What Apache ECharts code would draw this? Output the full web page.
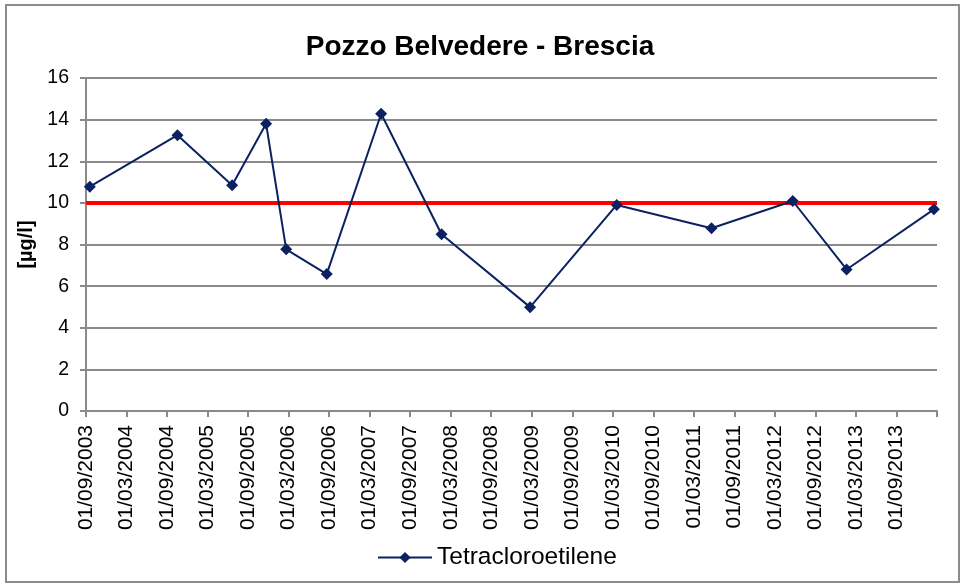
<!DOCTYPE html>
<html>
<head>
<meta charset="utf-8">
<script src="https://cdn.jsdelivr.net/npm/echarts@6/dist/echarts.min.js"></script>
<style>
  html, body { margin: 0; padding: 0; background: #fff; }
  #chart { width: 960px; height: 584px; }
</style>
</head>
<body>
<div id="chart"></div>
<script>
// sampling dates and measured values (µg/l)
const sampleDates = [
  '2003-09-18', '2004-10-18', '2005-06-20', '2005-11-21', '2006-02-19',
  '2006-08-21', '2007-04-22', '2008-01-21', '2009-02-22', '2010-03-19',
  '2011-05-20', '2012-05-21', '2013-01-20', '2014-02-16'
]
const tetraValues = [
  10.78, 13.25, 10.85, 13.8, 7.77,
  6.58, 14.28, 8.49, 4.99, 9.9,
  8.78, 10.09, 6.8, 9.69
]
const limitValue = 10
const yTicks = [0, 2, 4, 6, 8, 10, 12, 14, 16]

// x axis runs in months counted from 01/09/2003
const startYear = 2003
const startMonth = 9
const axisMonths = 126
const tickStep = 6

const monthsFromStart = (s) => {
  const [y, m, d] = s.split('-').map(Number)
  const daysInMonth = new Date(y, m, 0).getDate()
  return (y - startYear) * 12 + (m - startMonth) + (d - 1) / daysInMonth
}

const monthLabel = (v) => {
  if (v >= axisMonths) return ''
  const total = startMonth - 1 + Math.round(v)
  const y = startYear + Math.floor(total / 12)
  const m = (total % 12) + 1
  return '01/' + String(m).padStart(2, '0') + '/' + y
}

const points = sampleDates.map((d, i) => [monthsFromStart(d), tetraValues[i]])

const font = "'Liberation Sans', Arial, sans-serif"
const gray = '#8a8a8a'
const navy = '#0b2161'

const chart = echarts.init(document.getElementById('chart'))

chart.setOption({
  animation: false,
  textStyle: { fontFamily: font, color: '#000' },
  title: {
    text: 'Pozzo Belvedere - Brescia',
    left: 'center',
    top: 28,
    textStyle: { fontFamily: font, fontSize: 28, fontWeight: 'bold', color: '#000' }
  },
  graphic: [
    {
      type: 'rect',
      shape: { x: 6, y: 5, width: 953, height: 577 },
      style: { fill: 'none', stroke: '#8c8c8c', lineWidth: 2 },
      silent: true,
      z: -1
    }
  ],
  legend: {
    bottom: 9,
    left: 372,
    itemWidth: 54,
    itemHeight: 14,
    itemGap: 6,
    textStyle: { fontFamily: font, fontSize: 24.5, color: '#000' },
    data: ['Tetracloroetilene']
  },
  grid: { left: 86, right: 23, top: 78, bottom: 173 },
  xAxis: {
    type: 'value',
    min: 0,
    max: axisMonths,
    interval: tickStep,
    splitLine: { show: false },
    axisLine: { lineStyle: { color: gray, width: 2 } },
    axisTick: { show: true, length: 6, lineStyle: { color: gray, width: 2 } },
    axisLabel: {
      rotate: 90,
      margin: 14,
      fontSize: 21,
      fontFamily: font,
      color: '#000',
      showMaxLabel: true,
      formatter: monthLabel
    }
  },
  yAxis: {
    type: 'value',
    min: yTicks[0],
    max: yTicks[yTicks.length - 1],
    interval: 2,
    name: '[µg/l]',
    nameLocation: 'middle',
    nameRotate: 90,
    nameGap: 49,
    nameTextStyle: { fontFamily: font, fontSize: 20, fontWeight: 'bold', color: '#000' },
    axisLine: { show: true, lineStyle: { color: gray, width: 2 } },
    axisTick: { show: true, length: 6, lineStyle: { color: gray, width: 2 } },
    splitLine: { lineStyle: { color: gray, width: 2 } },
    axisLabel: { fontSize: 19.5, fontFamily: font, color: '#000', margin: 17 }
  },
  series: [
    {
      name: 'Tetracloroetilene',
      type: 'line',
      data: points,
      symbol: 'diamond',
      symbolSize: 12,
      lineStyle: { color: navy, width: 2 },
      itemStyle: { color: navy },
      z: 3,
      markLine: {
        silent: true,
        symbol: 'none',
        label: { show: false },
        lineStyle: { color: '#ff0000', type: 'solid', width: 4 },
        data: [{ yAxis: limitValue }],
        z: 2
      }
    }
  ]
})
</script>
</body>
</html>
